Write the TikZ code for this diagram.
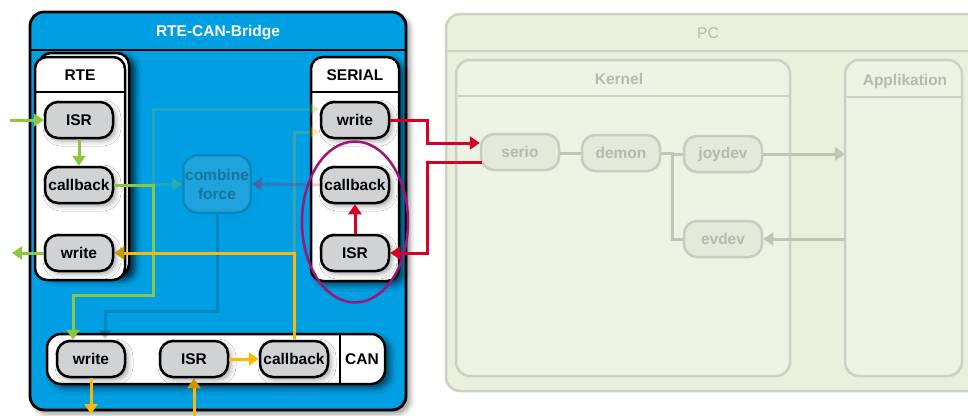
\documentclass[tikz,border=0pt]{standalone}
\usepackage{fontspec}
\setmainfont{Liberation Sans}
\usetikzlibrary{arrows.meta,shadows.blur,shapes.geometric}

\definecolor{bridgeblue}{RGB}{0,159,227}
\definecolor{nodegray}{RGB}{209,210,212}
\definecolor{sigGreen}{RGB}{141,198,63}
\definecolor{sigYellow}{RGB}{255,184,0}
\definecolor{sigGold}{RGB}{205,150,0}
\definecolor{sigRed}{RGB}{214,0,38}
\definecolor{grpPurple}{RGB}{160,20,120}
\definecolor{pcFill}{RGB}{232,240,220}
\definecolor{pcInner}{RGB}{237,243,227}
\definecolor{pcBorder}{RGB}{205,208,196}
\definecolor{pcLine}{RGB}{192,197,182}
\definecolor{pcText}{RGB}{182,186,174}
\definecolor{pcNodeFill}{RGB}{228,233,218}
\definecolor{pcNodeBorder}{RGB}{200,204,190}

\begin{document}
\begin{tikzpicture}[x=1pt,y=-1pt,
  lbl/.style={font=\fontsize{15.5pt}{19pt}\selectfont\bfseries},
  fn/.style={draw=black, line width=2.5pt, fill=nodegray, rounded corners=13pt,
    minimum width=68pt, minimum height=36pt, inner sep=0pt, lbl,
    blur shadow={shadow xshift=3pt, shadow yshift=-3pt, shadow blur radius=5pt, shadow opacity=35}},
  pcfn/.style={draw=pcNodeBorder, line width=2.5pt, fill=pcNodeFill, rounded corners=13pt,
    minimum width=78pt, minimum height=36pt, inner sep=0pt, lbl, text=pcText},
  cbox/.style={draw=black, line width=2.5pt, fill=white, rounded corners=12pt},
  pcbox/.style={draw=pcBorder, line width=2.5pt, fill=pcInner, rounded corners=14pt},
  tip/.style={-{Triangle[length=10pt,width=13pt]}},
  conn/.style={line width=3pt},
  faded/.style={opacity=0.22},
]
\useasboundingbox (0,0) rectangle (968,415);
\clip (0,0) rectangle (968,415);

% ---------- PC ----------
\draw[draw=pcBorder, line width=2.5pt, fill=pcFill, rounded corners=14pt]
  (446,14) rectangle (1000,391);
\draw[pcBorder, line width=2.5pt] (446,51) -- (1000,51);
\node[font=\fontsize{15.5pt}{19pt}\selectfont, text=pcText] (pcTitle) at (708,33) {PC};

\draw[pcbox] (456,60) rectangle (790,376);
\draw[pcBorder, line width=2.5pt] (456,96) -- (791,96);
\node[lbl, text=pcText] (kernelTitle) at (619,79) {Kernel};

\draw[pcbox] (845,60) rectangle (962,376);
\draw[pcBorder, line width=2.5pt] (845,97) -- (962,97);
\node[lbl, text=pcText] (appTitle) at (905,81) {Applikation};

\node[pcfn] (serio) at (520,152) {serio};
\node[pcfn] (demon) at (621,153) {demon};
\node[pcfn] (joydev) at (723,154) {joydev};
\node[pcfn] (evdev) at (723,239) {evdev};
\coordinate (fork) at (672,153);
\coordinate (appIn) at (845,154);
\coordinate (appOut) at (845,239);

\draw[conn, pcLine] (serio.east |- demon) -- (demon.west);
\draw[conn, pcLine] (demon.east) -- (fork) -- (fork |- joydev) -- (joydev.west);
\draw[conn, pcLine] (fork) -- (fork |- evdev) -- (evdev.west);
\draw[conn, pcLine, tip] (joydev.east) -- (appIn);
\draw[conn, pcLine, tip] (appOut) -- (evdev.east);

% ---------- RTE-CAN-Bridge ----------
\draw[draw=black, line width=2.8pt, fill=bridgeblue, rounded corners=14pt,
  blur shadow={shadow xshift=4pt, shadow yshift=-4pt, shadow blur radius=5pt, shadow opacity=40}]
  (30,12) rectangle (406,410);
\draw[black, line width=2.5pt] (30,50) -- (406,50);
\node[lbl, text=white] (bridgeTitle) at (218,33) {RTE-CAN-Bridge};

% RTE container (stacked)
\draw[cbox, blur shadow={shadow xshift=6pt, shadow yshift=-4pt, shadow blur radius=6pt, shadow opacity=75}]
  (39,53) rectangle (129,276);
\draw[cbox] (35,57) rectangle (125,280);
\draw[black, line width=2.5pt] (35,92) -- (125,92);
\node[lbl] (rteTitle) at (80,75) {RTE};

% SERIAL container
\draw[cbox, blur shadow={shadow xshift=5pt, shadow yshift=-4pt, shadow blur radius=6pt, shadow opacity=60}]
  (311,57) rectangle (399,281);
\draw[black, line width=2.5pt] (311,92) -- (399,92);
\node[lbl] (serialTitle) at (355,75) {SERIAL};

% CAN container
\draw[cbox, rounded corners=14pt, blur shadow={shadow xshift=5pt, shadow yshift=-4pt, shadow blur radius=6pt, shadow opacity=60}]
  (47,334) rectangle (385,384);
\draw[black, line width=2.5pt] (340,334) -- (340,384);
\node[lbl] (canTitle) at (362,359) {CAN};

% function blocks
\node[fn] (rtisr) at (79,120) {ISR};
\node[fn] (rtcb)  at (79,185) {callback};
\node[fn] (rtwr)  at (79,253) {write};
\node[fn] (swr)   at (355,120) {write};
\node[fn] (scb)   at (355,185) {callback};
\node[fn] (sisr)  at (355,253) {ISR};
\node[fn] (cwr)   at (91,359) {write};
\node[fn] (cisr)  at (194,359) {ISR};
\node[fn] (ccb)   at (294,359) {callback};
\node[fn, opacity=0.15, text opacity=0.28, minimum width=67pt, minimum height=57pt,
  align=center, rounded corners=14pt,
  blur shadow={shadow xshift=3pt, shadow yshift=-3pt, shadow blur radius=4pt, shadow opacity=6}]
  (comb) at (217,184) {combine\\force};

% junction points
\coordinate (gSplit) at (153,185);
\coordinate (gTop) at (153,109);
\coordinate (gLow) at (153,295);
\coordinate (gLeft) at (73,295);
\coordinate (bDown) at (217,311);
\coordinate (bLeft) at (105,311);
\coordinate (yTurn) at (294,253);
\coordinate (yTop) at (294,132);
\coordinate (rOut) at (427,120);
\coordinate (rOutB) at (427,143);
\coordinate (rIn) at (427,162);
\coordinate (rInB) at (427,253);
\coordinate (rteIn) at (10,120);
\coordinate (rteOut) at (12,253);
\coordinate (canOut) at (91,414);
\coordinate (canIn) at (194,416);

% dimmed alternative paths
\draw[conn, sigGreen, faded, tip] (gSplit) -- (comb.west);
\draw[conn, sigGreen, faded, tip] (gSplit) -- (gTop) -- ([yshift=11pt]swr.west);
\draw[conn, sigYellow, faded, tip] (yTurn) -- (yTop) -- ([yshift=-12pt]swr.west);
\draw[conn, sigRed, faded, tip] (scb.west) -- (comb.east);
\draw[conn, black, opacity=0.15, tip] (comb.south) -- (bDown) -- (bLeft) -- ([xshift=14pt]cwr.north);

% green signals
\draw[conn, sigGreen, tip] (rteIn) -- (rtisr.west);
\draw[conn, sigGreen, tip] (rtisr) -- (rtcb);
\draw[conn, sigGreen, tip] (rtcb.east) -- (gSplit) -- (gLow) -- (gLeft) -- ([xshift=-18pt]cwr.north);
\draw[conn, sigGreen, tip] (rtwr.west) -- (rteOut);

% yellow signals
\draw[conn, sigYellow] (ccb.north) -- (yTurn) -- ([xshift=3pt]rtwr.east);
\draw[conn, sigGold, tip] ([xshift=6pt]rtwr.east) -- (rtwr.east);
\draw[conn, sigYellow, tip] (cisr.east) -- (ccb.west);
\draw[conn, sigYellow] (canIn) -- ([yshift=-3pt]cisr.south);
\draw[conn, sigGold, tip] ([yshift=-6pt]cisr.south) -- (cisr.south);
\draw[conn, sigYellow, tip] (cwr.south) -- (canOut);

% red signals
\draw[conn, sigRed, tip] (swr.east) -- (rOut) -- (rOutB) -- ([yshift=9pt]serio.west);
\draw[conn, sigRed, tip] ([yshift=-10pt,xshift=2pt]serio.west) -- (rIn) -- (rInB) -- (sisr.east);
\draw[conn, sigRed, tip] (sisr) -- (scb);

% serial group marker
\node[draw=grpPurple, line width=2.5pt, ellipse, minimum width=106pt, minimum height=161pt,
  inner sep=0pt] (grp) at (355,222) {};
\end{tikzpicture}
\end{document}
